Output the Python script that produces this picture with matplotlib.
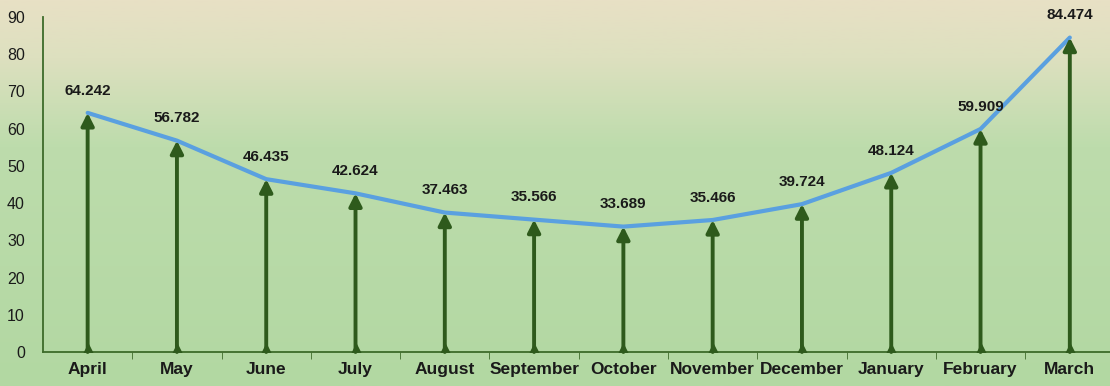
import numpy as np
import matplotlib
matplotlib.use('Agg')
import matplotlib.pyplot as plt
from matplotlib.colors import LinearSegmentedColormap

months = ['April', 'May', 'June', 'July', 'August', 'September', 'October',
          'November', 'December', 'January', 'February', 'March']
values = [64.242, 56.782, 46.435, 42.624, 37.463, 35.566, 33.689,
          35.466, 39.724, 48.124, 59.909, 84.474]
y_ticks = [0, 10, 20, 30, 40, 50, 60, 70, 80, 90]

plt.rcParams['font.family'] = ['Liberation Sans', 'DejaVu Sans']

fig = plt.figure(figsize=(11.1, 3.86), dpi=100)

# background gradient: beige at the top fading into green
bg = fig.add_axes([0, 0, 1, 1], zorder=0)
grad = LinearSegmentedColormap.from_list(
    'bg', [(0.0, '#e8e0c5'), (0.15, '#dde0bf'), (0.38, '#bddcac'), (1.0, '#b2d8a2')])
bg.imshow(np.linspace(0, 1, 256).reshape(-1, 1), aspect='auto', cmap=grad,
          extent=[0, 1, 0, 1], origin='upper')
bg.axis('off')

ax = fig.add_axes([43 / 1110, 34 / 386, 1067 / 1110, 335 / 386], zorder=1)
ax.patch.set_alpha(0)

x = np.arange(len(months))
arrow_col = '#2e5a1c'
for xi, v in zip(x, values):
    ax.annotate('', xy=(xi, v), xytext=(xi, 0),
                arrowprops=dict(arrowstyle='-|>,head_width=0.38,head_length=0.75',
                                color=arrow_col, lw=2.8, shrinkA=0, shrinkB=0))
ax.plot(x, np.full(len(x), 0.8), marker='^', ls='none', color=arrow_col, ms=7, zorder=3)

ax.plot(x, values, color='#5aa0e0', lw=3, solid_capstyle='round', zorder=2)

for xi, v in zip(x, values):
    ax.annotate(f'{v:.3f}', (xi, v), xytext=(0, 11), textcoords='offset points',
                ha='center', va='bottom', fontsize=11, fontweight='bold',
                color='#1a1a1a')

ax.set_xlim(-0.5, 11.45)
ax.set_ylim(0, 90)
ax.set_yticks(y_ticks)
ax.set_xticks(x)
ax.set_xticklabels(months, fontsize=12.5, fontweight='bold', color='#1a1a1a')
ax.set_xticks(np.arange(0.5, 11, 1), minor=True)
ax.tick_params(axis='x', which='major', length=0, pad=7)
ax.tick_params(axis='x', which='minor', length=5, color='#3d6b2a', direction='out')
ax.tick_params(axis='y', length=0, pad=13, labelsize=11.5, labelcolor='#1a1a1a')

for side in ['top', 'right']:
    ax.spines[side].set_visible(False)
for side in ['left', 'bottom']:
    ax.spines[side].set_color('#3d6b2a')
    ax.spines[side].set_linewidth(1.3)

fig.savefig('out.png', dpi=100)
